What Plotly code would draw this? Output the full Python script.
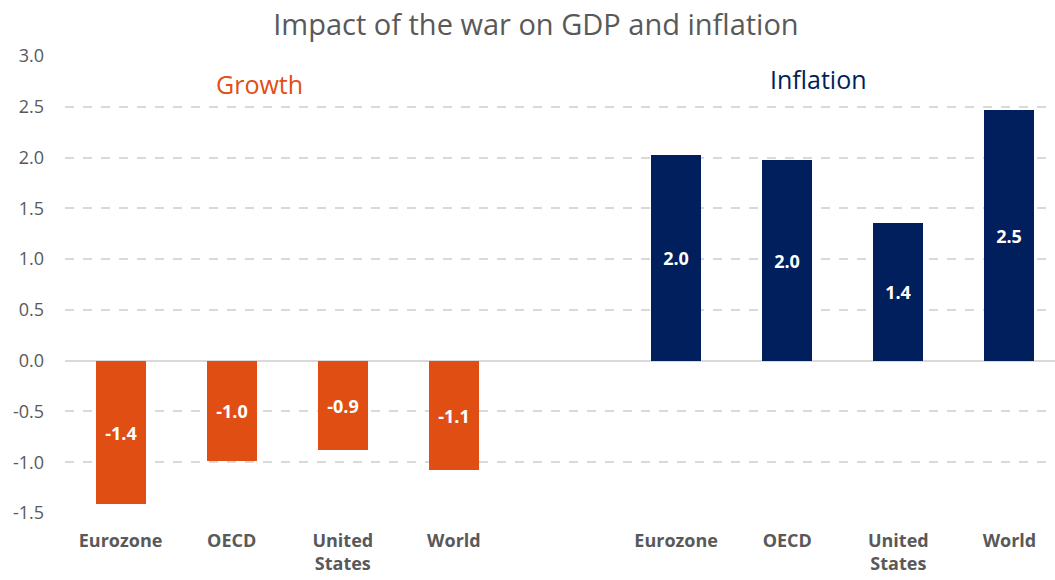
import plotly.graph_objects as go

categories = ["Eurozone", "OECD", "United<br>States", "World"]
growth = [-1.41, -0.99, -0.88, -1.08]
inflation = [2.03, 1.98, 1.36, 2.47]
y_ticks = [-1.5, -1.0, -0.5, 0.0, 0.5, 1.0, 1.5, 2.0, 2.5, 3.0]

orange = "#E04E14"
navy = "#001F5C"
grey_text = "#595959"

gx = list(range(len(categories)))
ix = [i + len(categories) + 1 for i in range(len(categories))]

fig = go.Figure()
for xs, ys, col in [(gx, growth, orange), (ix, inflation, navy)]:
    fig.add_trace(go.Bar(
        x=xs, y=ys, width=0.45, marker=dict(color=col, line=dict(width=0)),
        texttemplate="%{y:.1f}", textposition="inside", insidetextanchor="middle",
        textangle=0,
        textfont=dict(family="Open Sans", size=18, color="white", weight="bold"),
        hoverinfo="skip", showlegend=False,
    ))

fig.update_layout(
    width=1055, height=580,
    margin=dict(l=65, r=0, t=56, b=67),
    plot_bgcolor="white", paper_bgcolor="white",
    bargap=0,
    title=dict(text="Impact of the war on GDP and inflation", x=0.508, xanchor="center",
               y=0.958, yanchor="middle",
               font=dict(family="Open Sans", size=29, color=grey_text)),
    annotations=[
        dict(text="Growth", x=1.25, y=2.72, xref="x", yref="y", showarrow=False,
             font=dict(family="Open Sans", size=25, color=orange)),
        dict(text="Inflation", x=6.28, y=2.77, xref="x", yref="y", showarrow=False,
             font=dict(family="Open Sans", size=25, color=navy)),
    ],
)
fig.update_xaxes(
    range=[-0.5, 8.41], tickvals=gx + ix, ticktext=categories + categories,
    showgrid=False, zeroline=False, showline=False, ticks="",
    ticklabelstandoff=15, automargin=False,
    tickfont=dict(family="Open Sans", size=18, color=grey_text, weight="bold"),
)
fig.update_yaxes(
    range=[-1.5, 3.0], tickvals=y_ticks, ticktext=[f"{v:.1f}" for v in y_ticks],
    showgrid=True, gridcolor="#D9D9D9", griddash="dash", gridwidth=1.5,
    zeroline=True, zerolinecolor="#D9D9D9", zerolinewidth=2,
    ticklabelstandoff=20, automargin=False,
    tickfont=dict(family="Open Sans", size=18, color=grey_text),
)

fig.write_html("out.html")
